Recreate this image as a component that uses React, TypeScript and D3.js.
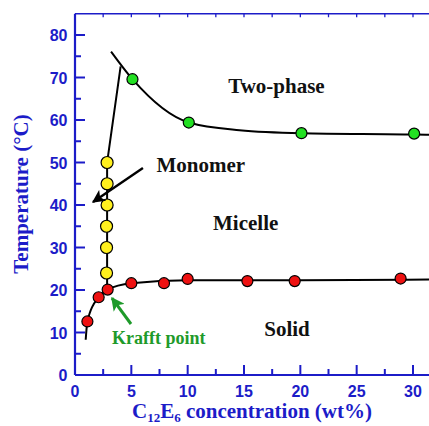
import React from "react";
import * as d3 from "d3";

// Phase diagram of C12E6 in water: temperature vs. concentration
const twoPhaseConc = [5.1, 10.1, 20.1, 30.1];
const twoPhaseTemp = [69.6, 59.4, 56.9, 56.8];

const monomerConc = [2.85, 2.85, 2.85, 2.8, 2.8, 2.8];
const monomerTemp = [50, 45, 40, 35, 30, 24];

const solidConc = [1.1, 2.1, 2.9, 5.0, 7.9, 10.0, 15.3, 19.5, 28.9];
const solidTemp = [12.6, 18.3, 20.1, 21.6, 21.6, 22.6, 22.1, 22.1, 22.7];

// Fitted boundary curves
const cloudCurveConc = [3.2, 5.1, 10.1, 14.6, 20.1, 30.1, 32];
const cloudCurveTemp = [76.1, 69.6, 59.4, 57.6, 56.9, 56.6, 56.5];

const kraftCurveConc = [0.95, 1.1, 2.1, 2.9, 5.0, 10.0, 20, 32];
const kraftCurveTemp = [8.3, 12.6, 18.3, 20.1, 21.6, 22.3, 22.3, 22.5];

const cmcLineConc = [2.85, 2.85, 4.05];
const cmcLineTemp = [20.1, 50, 72.6];

const yTicks = [0, 10, 20, 30, 40, 50, 60, 70, 80];
const yMinorTicks = [5, 15, 25, 35, 45, 55, 65, 75];
const xTicks = [0, 5, 10, 15, 20, 25, 30];
const xMinorTicks = [2.5, 7.5, 12.5, 17.5, 22.5, 27.5];
const topTicks = [2.5, 5, 7.5, 10, 12.5, 15, 17.5, 20, 22.5, 25, 27.5, 30];

const W = 429;
const H = 426;
const BLUE = "#1c1cc8";

export default function App() {
  const x = d3.scaleLinear().domain([0, 30]).range([75, 413]);
  const y = d3.scaleLinear().domain([0, 80]).range([375, 35]);
  const yTop = y(85.0);

  const line = d3
    .line<[number, number]>()
    .x((d) => x(d[0]))
    .y((d) => y(d[1]));
  const smooth = d3
    .line<[number, number]>()
    .x((d) => x(d[0]))
    .y((d) => y(d[1]))
    .curve(d3.curveMonotoneX);

  const zip = (a: number[], b: number[]) =>
    a.map((v, i) => [v, b[i]] as [number, number]);

  const serif = "'Liberation Serif', 'Times New Roman', serif";
  const sans = "'Liberation Sans', Arial, sans-serif";

  return (
    <svg
      width={W}
      height={H}
      style={{ position: "absolute", left: 0, top: 0, background: "#fff" }}
    >
      <defs>
        <marker
          id="headBlack"
          viewBox="0 0 10 10"
          refX="9"
          refY="5"
          markerWidth="5.5"
          markerHeight="5.5"
          markerUnits="strokeWidth"
          orient="auto"
        >
          <path d="M0,0 L10,5 L0,10 L2.5,5 Z" fill="#000" />
        </marker>
        <marker
          id="headGreen"
          viewBox="0 0 10 10"
          refX="9"
          refY="5"
          markerWidth="4.5"
          markerHeight="4.5"
          markerUnits="strokeWidth"
          orient="auto"
        >
          <path d="M0,0 L10,5 L0,10 L2.5,5 Z" fill="#1e9a2a" />
        </marker>
        <clipPath id="plotClip">
          <rect x={75} y={yTop} width={W - 75} height={375 - yTop} />
        </clipPath>
      </defs>

      {/* frame */}
      <line x1={75} x2={W} y1={yTop} y2={yTop} stroke={BLUE} strokeWidth={1.6} />
      <line x1={75} x2={75} y1={yTop} y2={375} stroke={BLUE} strokeWidth={2.2} />
      <line x1={75} x2={W} y1={375} y2={375} stroke={BLUE} strokeWidth={2.2} />

      {/* y ticks */}
      {yTicks.map((t) => (
        <g key={"y" + t}>
          {t > 0 && (
            <line x1={75} x2={85} y1={y(t)} y2={y(t)} stroke={BLUE} strokeWidth={2} />
          )}
          <text
            x={67.5}
            y={y(t) + 6}
            textAnchor="end"
            fontFamily={sans}
            fontWeight="bold"
            fontSize={16}
            fill={BLUE}
          >
            {t}
          </text>
        </g>
      ))}
      {yMinorTicks.map((t) => (
        <line key={"ym" + t} x1={75} x2={81} y1={y(t)} y2={y(t)} stroke={BLUE} strokeWidth={2} />
      ))}

      {/* x ticks */}
      {xTicks.map((t) => (
        <g key={"x" + t}>
          {t > 0 && (
            <line x1={x(t)} x2={x(t)} y1={375} y2={365} stroke={BLUE} strokeWidth={2} />
          )}
          <text
            x={x(t)}
            y={396.5}
            textAnchor="middle"
            fontFamily={sans}
            fontWeight="bold"
            fontSize={16}
            fill={BLUE}
          >
            {t}
          </text>
        </g>
      ))}
      {xMinorTicks.map((t) => (
        <line key={"xm" + t} x1={x(t)} x2={x(t)} y1={375} y2={369} stroke={BLUE} strokeWidth={2} />
      ))}
      {topTicks.map((t) => (
        <line key={"xt" + t} x1={x(t)} x2={x(t)} y1={yTop} y2={yTop + 3.5} stroke={BLUE} strokeWidth={1.3} />
      ))}

      {/* axis titles */}
      <text
        transform="translate(28,194) rotate(-90)"
        textAnchor="middle"
        fontFamily={serif}
        fontWeight="bold"
        fontSize={21}
        fill={BLUE}
      >
        Temperature (°C)
      </text>
      <text
        x={252}
        y={418}
        textAnchor="middle"
        fontFamily={serif}
        fontWeight="bold"
        fontSize={21}
        fill={BLUE}
      >
        C
        <tspan fontSize={13} dy={4}>12</tspan>
        <tspan dy={-4}>E</tspan>
        <tspan fontSize={13} dy={4}>6</tspan>
        <tspan dy={-4}> concentration (wt%)</tspan>
      </text>

      {/* boundaries */}
      <g clipPath="url(#plotClip)" fill="none" stroke="#000" strokeWidth={2}>
        <path d={smooth(zip(cloudCurveConc, cloudCurveTemp)) || ""} />
        <path d={smooth(zip(kraftCurveConc, kraftCurveTemp)) || ""} />
        <path d={line(zip(cmcLineConc, cmcLineTemp)) || ""} />
      </g>

      {/* data points */}
      {twoPhaseConc.map((c, i) => (
        <circle key={"g" + i} cx={x(c)} cy={y(twoPhaseTemp[i])} r={5.5} fill="#22e022" stroke="#000" strokeWidth={1.2} />
      ))}
      {monomerConc.map((c, i) => (
        <circle key={"m" + i} cx={x(c)} cy={y(monomerTemp[i])} r={6} fill="#fff01e" stroke="#000" strokeWidth={1.2} />
      ))}
      {solidConc.map((c, i) => (
        <circle key={"r" + i} cx={x(c)} cy={y(solidTemp[i])} r={5.5} fill="#ee1111" stroke="#000" strokeWidth={1.2} />
      ))}

      {/* region labels */}
      <g fontFamily={serif} fontWeight="bold" fontSize={21} fill="#111">
        <text x={x(13.6)} y={y(66.4)}>Two-phase</text>
        <text x={x(7.23)} y={y(47.8)}>Monomer</text>
        <text x={x(12.25)} y={y(34.1)}>Micelle</text>
        <text x={x(16.8)} y={y(9.2)}>Solid</text>
      </g>
      <text
        x={x(3.28)}
        y={y(7.3)}
        fontFamily={serif}
        fontWeight="bold"
        fontSize={18}
        fill="#1e9a2a"
      >
        Krafft point
      </text>

      {/* arrows */}
      <line
        x1={x(6.03)}
        y1={y(48.7)}
        x2={x(1.6)}
        y2={y(40.7)}
        stroke="#000"
        strokeWidth={2.4}
        markerEnd="url(#headBlack)"
      />
      <line
        x1={x(4.97)}
        y1={y(12)}
        x2={x(3.28)}
        y2={y(18.1)}
        stroke="#1e9a2a"
        strokeWidth={3}
        markerEnd="url(#headGreen)"
      />
    </svg>
  );
}
